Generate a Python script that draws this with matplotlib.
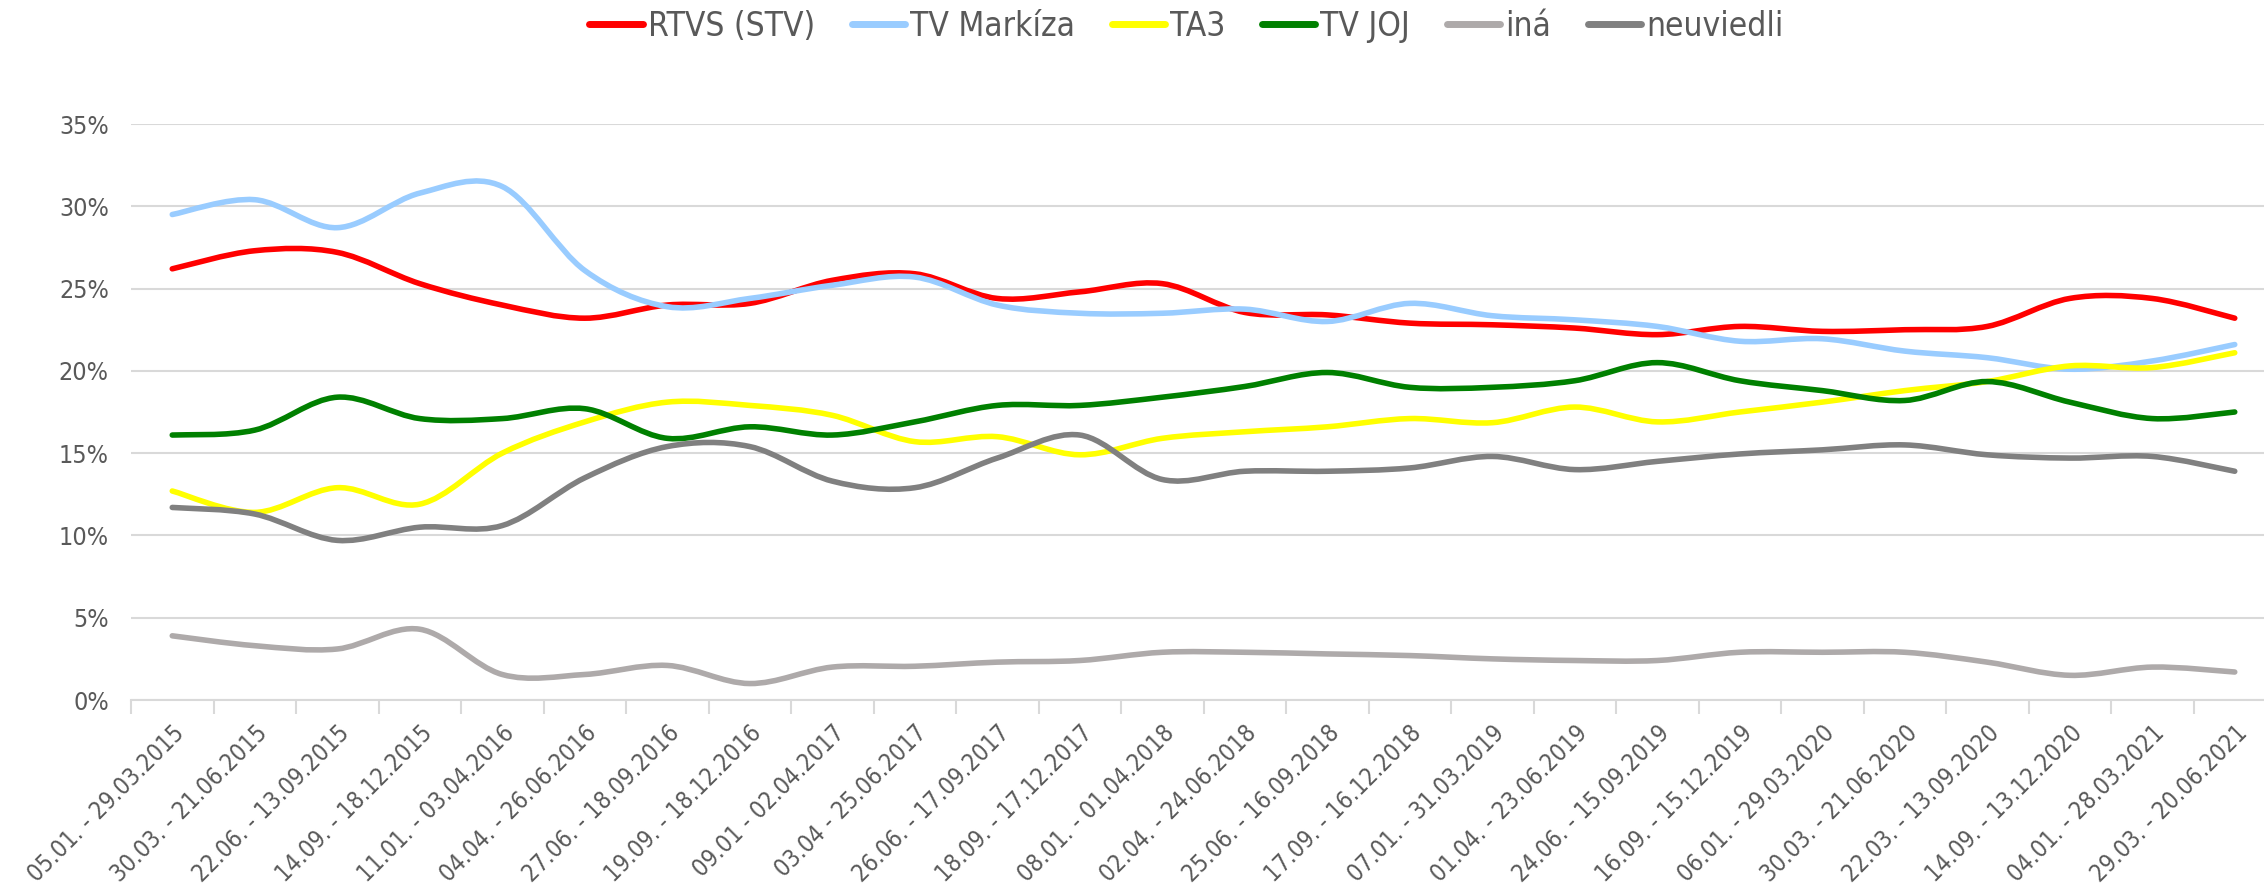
""" Share of TV stations over quarterly periods 2015-2021 """

import os
import numpy as np
import matplotlib
matplotlib.use("Agg")
import matplotlib.pyplot as plt
from matplotlib import font_manager
from matplotlib.font_manager import FontProperties
from matplotlib.path import Path
from matplotlib.patches import PathPatch
from matplotlib.lines import Line2D

periods = [
    "05.01. - 29.03.2015", "30.03. - 21.06.2015", "22.06. - 13.09.2015",
    "14.09. - 18.12.2015", "11.01. - 03.04.2016", "04.04. - 26.06.2016",
    "27.06. - 18.09.2016", "19.09. - 18.12.2016", "09.01 - 02.04.2017",
    "03.04 - 25.06.2017", "26.06. - 17.09.2017", "18.09. - 17.12.2017",
    "08.01. - 01.04.2018", "02.04. - 24.06.2018", "25.06. - 16.09.2018",
    "17.09. - 16.12.2018", "07.01. - 31.03.2019", "01.04. - 23.06.2019",
    "24.06. - 15.09.2019", "16.09. - 15.12.2019", "06.01. - 29.03.2020",
    "30.03. - 21.06.2020", "22.03. - 13.09.2020", "14.09. - 13.12.2020",
    "04.01. - 28.03.2021", "29.03. - 20.06.2021",
]

rtvs = [26.2, 27.3, 27.2, 25.3, 24.0, 23.2, 24.0, 24.1, 25.5, 25.9, 24.4, 24.8, 25.3,
        23.55, 23.4, 22.9, 22.8, 22.6, 22.2, 22.7, 22.4, 22.5, 22.7, 24.4, 24.4, 23.2]
markiza = [29.5, 30.4, 28.7, 30.8, 31.2, 26.1, 23.9, 24.4, 25.2, 25.7, 24.0, 23.5, 23.5,
           23.75, 23.0, 24.1, 23.35, 23.1, 22.7, 21.8, 21.95, 21.2, 20.8, 20.1, 20.6, 21.6]
ta3 = [12.7, 11.4, 12.9, 11.9, 15.0, 16.9, 18.1, 17.9, 17.3, 15.7, 16.0, 14.9, 15.9,
       16.3, 16.6, 17.1, 16.85, 17.8, 16.9, 17.5, 18.1, 18.8, 19.35, 20.3, 20.2, 21.1]
joj = [16.1, 16.4, 18.4, 17.1, 17.1, 17.7, 15.9, 16.6, 16.1, 16.9, 17.9, 17.9, 18.4,
       19.05, 19.9, 19.0, 19.0, 19.4, 20.5, 19.4, 18.8, 18.2, 19.35, 18.1, 17.1, 17.5]
ina = [3.9, 3.3, 3.1, 4.3, 1.55, 1.55, 2.1, 1.0, 2.0, 2.05, 2.3, 2.4, 2.9,
       2.9, 2.8, 2.7, 2.5, 2.4, 2.4, 2.9, 2.9, 2.9, 2.3, 1.5, 2.0, 1.7]
neuviedli = [11.7, 11.3, 9.7, 10.5, 10.6, 13.5, 15.4, 15.4, 13.3, 12.9, 14.7, 16.1, 13.4,
             13.9, 13.9, 14.1, 14.8, 14.0, 14.5, 14.95, 15.2, 15.5, 14.9, 14.7, 14.8, 13.9]

series = [
    ("RTVS (STV)", rtvs, "#FF0000"),
    ("TV Markíza", markiza, "#99CCFF"),
    ("TA3", ta3, "#FFFF00"),
    ("TV JOJ", joj, "#008000"),
    ("iná", ina, "#AEAAAA"),
    ("neuviedli", neuviedli, "#808080"),
]

TEXT = "#595959"
GRID = "#D9D9D9"
LW = 4.0


def narrow_font_file():
    """ Finds a narrow sans font file, closest to the Calibri look. """
    found = {}
    for f in font_manager.fontManager.ttflist:
        base = os.path.basename(f.fname).lower()
        if f.style != "normal" or f.weight not in (400, "normal", "regular"):
            continue
        if "narrow" in base or "condensed" in base:
            found[base] = f.fname
    for key in ("liberationsansnarrow-regular.ttf", "dejavusanscondensed.ttf"):
        if key in found:
            return found[key]
    return next(iter(found.values()), None)


def font(size):
    path = narrow_font_file()
    if path:
        return FontProperties(fname=path, size=size)
    return FontProperties(family="DejaVu Sans", size=size)


def smooth_path(xs, ys):
    """ Bezier path through the points, like a smoothed Excel line. """
    pts = np.column_stack([xs, ys]).astype(float)
    n = len(pts)
    verts = [pts[0]]
    codes = [Path.MOVETO]
    for i in range(n - 1):
        p0 = pts[max(i - 1, 0)]
        p1 = pts[i]
        p2 = pts[i + 1]
        p3 = pts[min(i + 2, n - 1)]
        verts += [p1 + (p2 - p0) / 6, p2 - (p3 - p1) / 6, p2]
        codes += [Path.CURVE4] * 3
    return Path(verts, codes)


fig = plt.figure(figsize=(22.64, 8.85), dpi=100)
ax = fig.add_axes([131 / 2264, 185 / 885, 2145 / 2264, 576 / 885])

x = np.arange(len(periods))
handles = []
for name, values, color in series:
    patch = PathPatch(smooth_path(x, values), fill=False, edgecolor=color,
                      linewidth=LW, capstyle="round", joinstyle="round", zorder=3)
    ax.add_patch(patch)
    handles.append(Line2D([], [], color=color, linewidth=LW + 1,
                          solid_capstyle="round", label=name))

ax.set_xlim(-0.5, len(periods) - 0.5)
ax.set_ylim(0, 35)

ax.set_yticks(range(0, 36, 5))
ax.set_yticklabels([f"{v}%" for v in range(0, 36, 5)], fontproperties=font(18),
                   color=TEXT)
ax.set_xticks(x)
ax.set_xticklabels(periods, rotation=45, ha="right", va="top",
                   rotation_mode="anchor", fontproperties=font(17), color=TEXT)
ax.set_xticks(np.arange(-0.5, len(periods)), minor=True)

ax.tick_params(axis="x", which="major", length=0, pad=15)
ax.tick_params(axis="x", which="minor", length=10, width=1.5, color=GRID)
ax.tick_params(axis="y", length=0, pad=16)

ax.grid(axis="y", color=GRID, linewidth=1.5)
ax.set_axisbelow(True)
for side in ("top", "right", "left"):
    ax.spines[side].set_visible(False)
ax.spines["bottom"].set_color(GRID)
ax.spines["bottom"].set_linewidth(1.5)

fig.legend(handles=handles, loc="center", bbox_to_anchor=(0.524, 0.970),
           ncol=6, frameon=False, prop=font(24), handlelength=1.6,
           handletextpad=0.15, columnspacing=1.1, labelcolor=TEXT)

fig.savefig("out.png", dpi=100)
